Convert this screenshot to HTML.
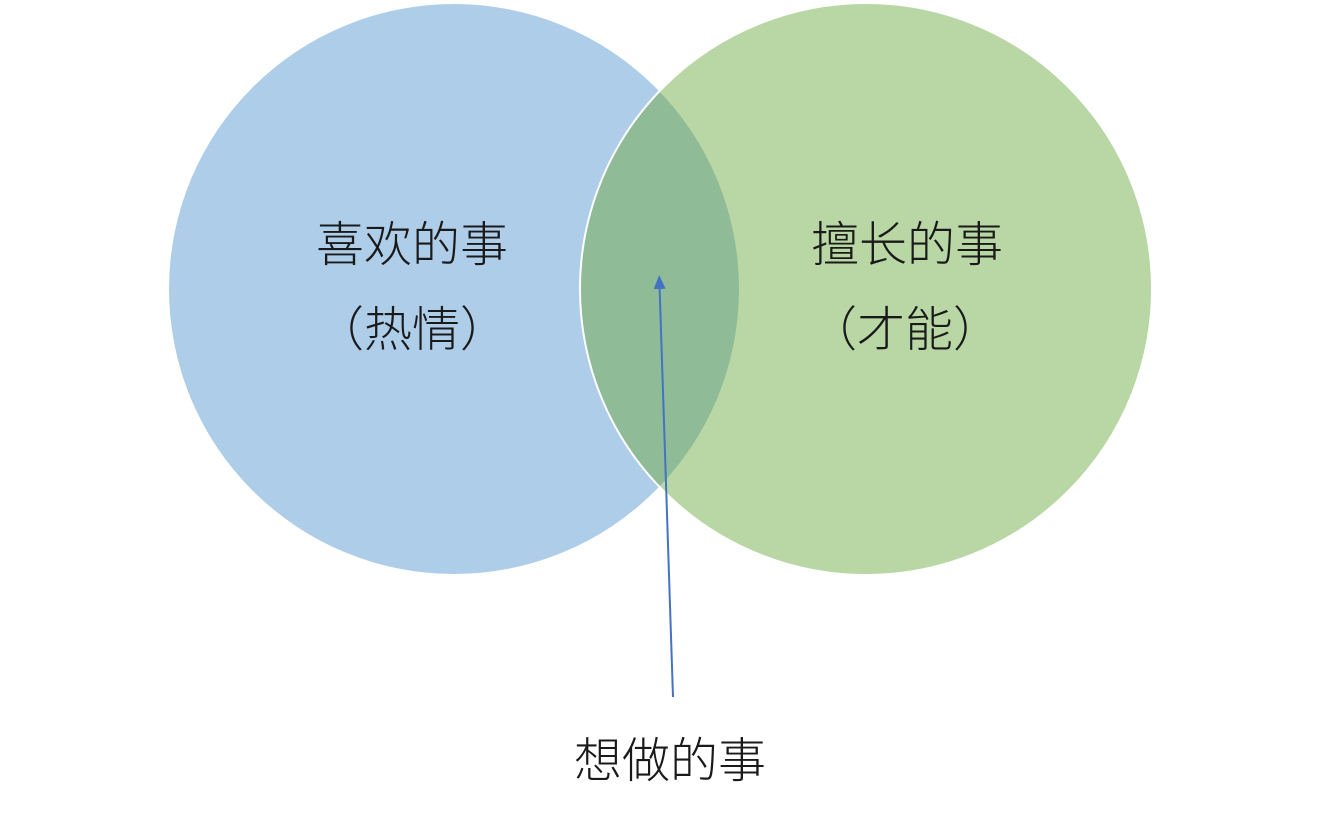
<!DOCTYPE html>
<html><head><meta charset="utf-8"><style>
html,body{margin:0;padding:0;background:#fff;}
svg{display:block}
text{font-family:"Liberation Sans","Noto Sans CJK SC",sans-serif;fill:#1a1a1a;font-weight:300;}
</style></head><body>
<svg width="1320" height="816" viewBox="0 0 1320 816">
<defs>
<clipPath id="cl"><circle cx="454" cy="289" r="285"/></clipPath>
<marker id="ah" markerWidth="14" markerHeight="14" refX="7" refY="7" orient="auto" markerUnits="userSpaceOnUse">
<path d="M0,1 L14,7 L0,13 z" fill="#4472c4"/></marker>
</defs>
<rect width="1320" height="816" fill="#fff"/>
<circle cx="454" cy="289" r="285" fill="#aecde9"/>
<circle cx="866" cy="289" r="286" fill="#b9d7a5" stroke="#fff" stroke-width="2"/>
<circle cx="866" cy="289" r="285" fill="#8fbc96" clip-path="url(#cl)"/>
<line x1="673" y1="697" x2="659.4" y2="282" stroke="#4472c4" stroke-width="2" marker-end="url(#ah)"/>
<text x="412" y="261" font-size="48" text-anchor="middle">喜欢的事</text>
<text x="412" y="346" font-size="48" text-anchor="middle">（热情）</text>
<text x="907" y="261" font-size="48" text-anchor="middle">擅长的事</text>
<text x="905" y="346" font-size="48" text-anchor="middle">（才能）</text>
<text x="670" y="777" font-size="48" text-anchor="middle">想做的事</text>
</svg>
</body></html>
